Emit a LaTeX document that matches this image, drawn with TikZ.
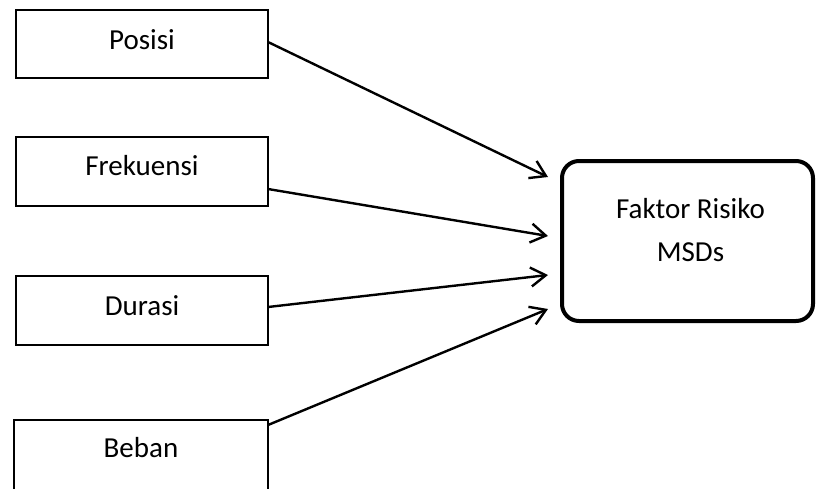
\documentclass[tikz,border=0pt]{standalone}
\usepackage{fontspec}
\setmainfont{Carlito}
\usetikzlibrary{arrows.meta}
\begin{document}
\begin{tikzpicture}[x=1pt,y=1pt,
  inbox/.style={draw, line width=2pt, inner sep=0pt, outer sep=0pt,
    minimum width=252pt, minimum height=69pt},
  boxtext/.style={font=\fontsize{29}{43}\selectfont, inner sep=0pt, anchor=base},
  target/.style={draw, line width=4pt, rounded corners=17pt, inner sep=0pt,
    outer sep=0pt, minimum width=251pt, minimum height=160pt},
  link/.style={line width=2.4pt, -{Straight Barb[length=15pt,width=19pt]}}
]
\useasboundingbox (0,0) rectangle (817,-488);
\clip (0,0) rectangle (817,-488);

% input factor boxes
\node[inbox, minimum height=68pt] (posisi) at (142,-44) {};
\node[inbox] (frek) at (142,-171.5) {};
\node[inbox] (durasi) at (142,-310.5) {};
\node[inbox, minimum height=72pt, minimum width=254pt] (beban) at (141,-456) {};

\node[boxtext] (tposisi) at ([yshift=-39pt]posisi.north) {Posisi};
\node[boxtext] (tfrek) at ([yshift=-38pt]frek.north) {Frekuensi};
\node[boxtext] (tdurasi) at ([yshift=-39pt]durasi.north) {Durasi};
\node[boxtext] (tbeban) at ([yshift=-37pt]beban.north) {Beban};

% outcome box
\node[target] (msd) at (687.5,-241) {};
\node[boxtext, align=center, anchor=north] (tmsd) at ([xshift=3pt,yshift=-37pt]msd.north) {Faktor Risiko\\MSDs};

% connectors
\draw[link] ([yshift=-32pt]posisi.north east) -- ([xshift=-14pt,yshift=-16pt]msd.north west);
\draw[link] ([yshift=-52pt]frek.north east) -- ([xshift=-14pt,yshift=-75pt]msd.north west);
\draw[link] ([yshift=-31pt]durasi.north east) -- ([xshift=-14pt,yshift=-114pt]msd.north west);
\draw[link] ([yshift=-5pt]beban.north east) -- ([xshift=-14pt,yshift=-148pt]msd.north west);
\end{tikzpicture}
\end{document}
